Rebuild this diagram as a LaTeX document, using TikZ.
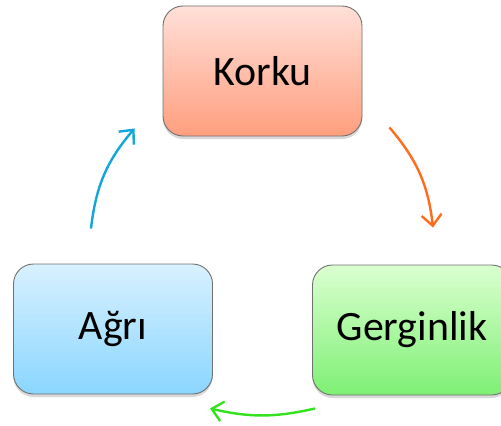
\documentclass[tikz,border=0pt]{standalone}
\usepackage{fontspec}
\setmainfont{Carlito}
\usetikzlibrary{arrows.meta,shadows}

\definecolor{korkutop}{RGB}{255,224,216}
\definecolor{korkubot}{RGB}{255,158,126}
\definecolor{agritop}{RGB}{216,241,255}
\definecolor{agribot}{RGB}{138,214,255}
\definecolor{gergtop}{RGB}{218,255,208}
\definecolor{gergbot}{RGB}{126,240,116}
\definecolor{edge}{RGB}{112,112,112}
\definecolor{korkuarrow}{RGB}{255,108,28}
\definecolor{gergarrow}{RGB}{52,226,30}
\definecolor{agriarrow}{RGB}{18,166,220}

\begin{document}
\begin{tikzpicture}[x=1bp,y=1bp]
        \tikzstyle{box} = [draw=edge, line width=0.9bp, rounded corners=20bp,
            minimum width=199bp, minimum height=130bp, inner sep=0pt,
            font=\fontsize{42}{50}\selectfont,
            drop shadow={shadow xshift=0bp, shadow yshift=-3bp, opacity=0.3}];
        \tikzstyle{cycle} = [line width=2.4bp, -{Straight Barb[length=11bp, width=20bp]}];
        \useasboundingbox (0,0) rectangle (501,425);

        \node [box, top color=korkutop, bottom color=korkubot] (korku) at (262.5,354) {Korku};
        \node [box, top color=gergtop, bottom color=gergbot] (gerg) at (412,95) {Gerginlik};
        \node [box, top color=agritop, bottom color=agribot] (agri) at (113,96) {Ağrı};

        \draw [cycle, korkuarrow] ([xshift=27bp,yshift=9bp]korku.south east)
            to[bend left=17] ([xshift=21bp,yshift=37bp]gerg.north);
        \draw [cycle, gergarrow] ([xshift=3bp,yshift=-13bp]gerg.south west)
            to[bend left=13] ([xshift=-3bp,yshift=-14bp]agri.south east);
        \draw [cycle, agriarrow] ([xshift=-22bp,yshift=35bp]agri.north)
            to[bend left=17] ([xshift=-28bp,yshift=8bp]korku.south west);
\end{tikzpicture}
\end{document}
